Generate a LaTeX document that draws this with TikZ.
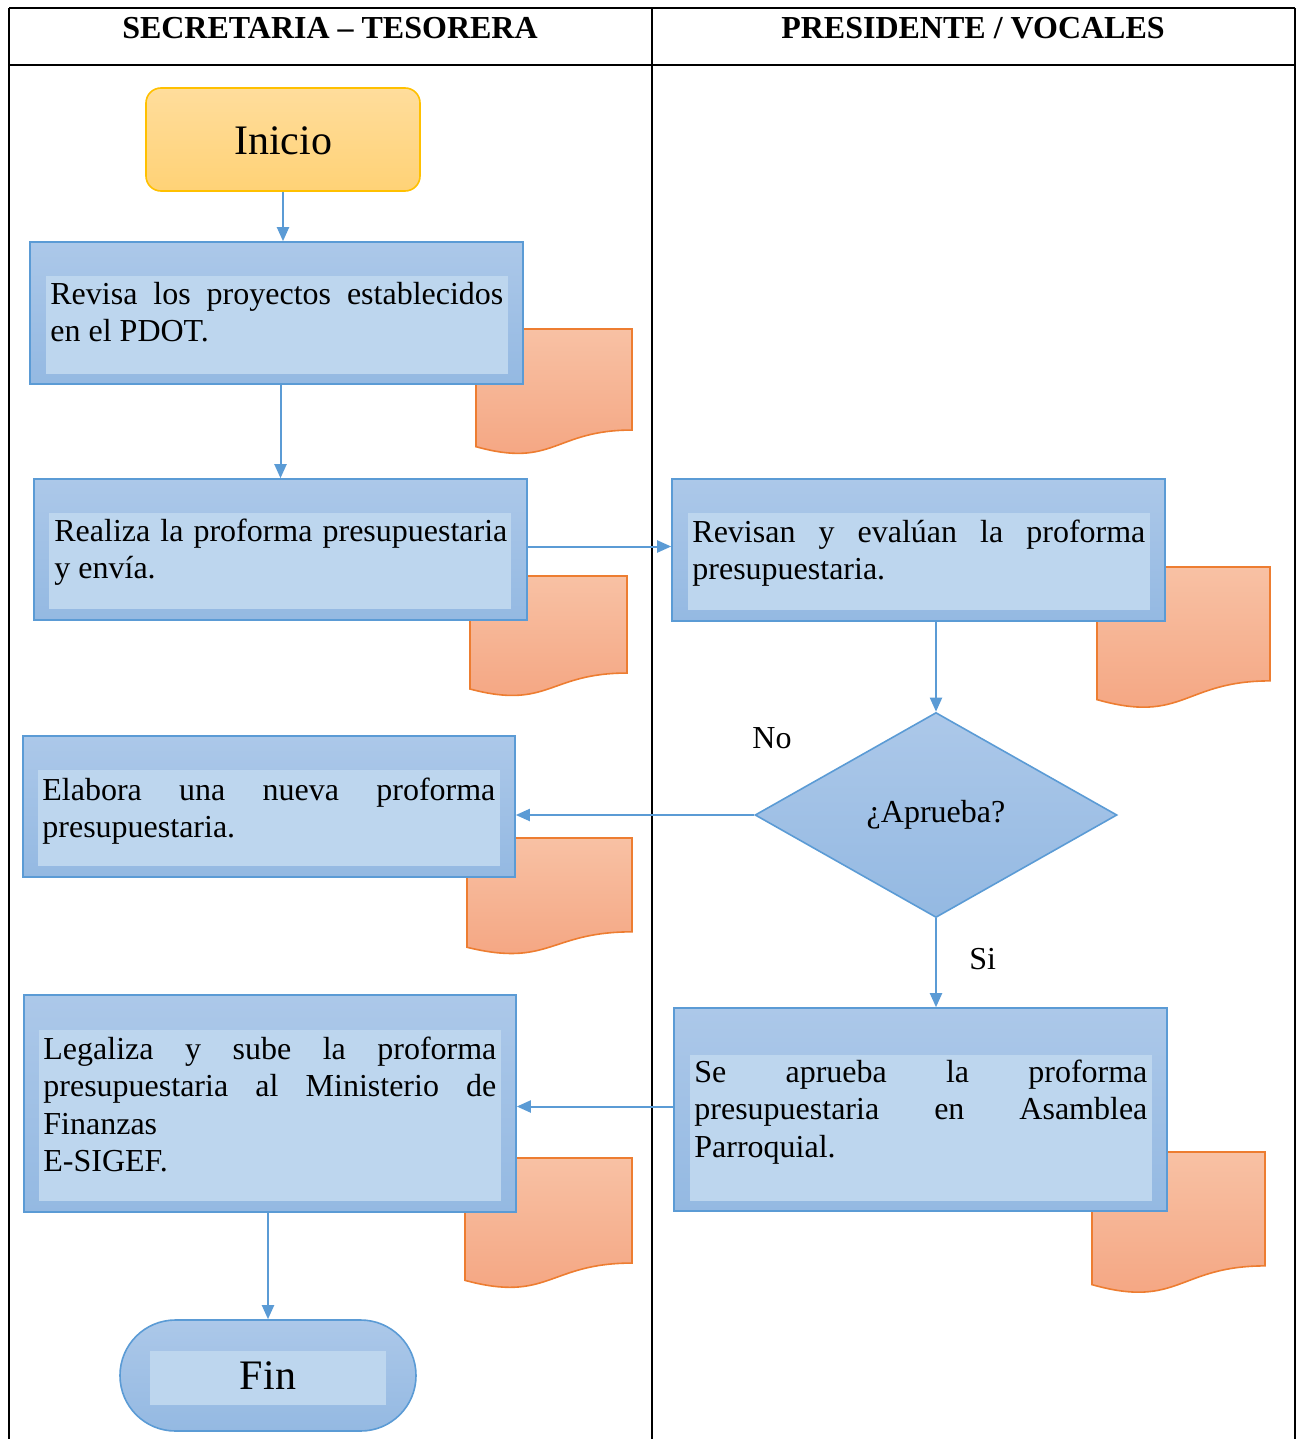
\documentclass[tikz,border=0pt]{standalone}
\usepackage{fontspec}
\setmainfont{Liberation Serif}
\usetikzlibrary{arrows.meta,shapes.geometric,fit}

\definecolor{flowblue}{RGB}{91,155,213}
\definecolor{boxtop}{RGB}{172,200,233}
\definecolor{boxbot}{RGB}{148,185,226}
\definecolor{boxinner}{RGB}{189,214,238}
\definecolor{doctop}{RGB}{248,193,164}
\definecolor{docbot}{RGB}{244,164,128}
\definecolor{docedge}{RGB}{237,125,49}
\definecolor{starttop}{RGB}{255,221,156}
\definecolor{startbot}{RGB}{255,210,118}
\definecolor{startedge}{RGB}{255,192,0}

% document symbol: left x, top y, width, height (drawing units)
\newcommand\docsheet[4]{%
  \path[docshape] (#1,#2) -- ({#1+#3},#2) -- ({#1+#3},{#2+0.802*#4})
    .. controls ({#1+0.5*#3},{#2+0.802*#4}) and ({#1+0.5*#3},{#2+1.107*#4})
    .. (#1,{#2+0.934*#4}) -- cycle;}

\newcommand\flowpar[1]{\parbox[t]{226.5pt}{\hyphenpenalty=10000\exhyphenpenalty=10000\hbadness=10000 #1}}

\tikzset{
  lane/.style={line width=1pt, draw=black},
  procbox/.style={rectangle, draw=flowblue, line width=0.8pt, top color=boxtop, bottom color=boxbot, inner sep=0pt},
  panel/.style={fill=boxinner},
  docshape/.style={draw=docedge, line width=0.8pt, top color=doctop, bottom color=docbot},
  startbox/.style={rectangle, rounded corners=7.5pt, draw=startedge, line width=0.8pt, top color=starttop, bottom color=startbot, inner sep=0pt},
  endbox/.style={rectangle, rounded corners=27.7pt, draw=flowblue, line width=0.8pt, top color=boxtop, bottom color=boxbot, inner sep=0pt},
  decision/.style={diamond, aspect=1.77, draw=flowblue, line width=0.8pt, top color=boxtop, bottom color=boxbot, inner sep=0pt, minimum width=181pt, minimum height=102.5pt, font=\fontsize{16}{19}\selectfont},
  flow/.style={draw=flowblue, line width=1pt, -{Triangle[width=6pt,length=7pt]}},
  bodytext/.style={inner sep=0pt, anchor=base west, font=\fontsize{16}{18.75}\selectfont},
  headtext/.style={inner sep=0pt, anchor=base, font=\bfseries\fontsize{16}{19}\selectfont},
  plain/.style={inner sep=0pt, anchor=base west, font=\fontsize{16}{19}\selectfont},
  bigtext/.style={inner sep=0pt, font=\fontsize{21}{25}\selectfont},
}

\begin{document}
\begin{tikzpicture}[x=0.5pt, y=-0.5pt]
\useasboundingbox (0,0) rectangle (1300,1439);

% swimlane table
\draw[lane] (9,8) -- (1295,8);
\draw[lane] (9,65) -- (1295,65);
\draw[lane] (9,8) -- (9,1445);
\draw[lane] (652,8) -- (652,1445);
\draw[lane] (1295,8) -- (1295,1445);
\node[headtext] (h1) at (330,39) {SECRETARIA – TESORERA};
\node[headtext] (h2) at (973,39) {PRESIDENTE / VOCALES};

% documents behind the process boxes
\docsheet{476}{329}{156}{126}
\docsheet{470}{576}{157}{121}
\docsheet{1097}{567}{173}{142}
\docsheet{467}{838}{165}{117}
\docsheet{1092}{1152}{173}{142}
\docsheet{465}{1158}{167}{131}

% start
\node[startbox, fit={(146,88) (420,191)}] (ini) {};
\node[bigtext] (tini) at (283,141) {Inicio};

% process boxes
\node[procbox, fit={(30,242) (523,384)}] (b1) {};
\fill[panel] (46,276) rectangle (508,374);
\node[bodytext] (t1) at (50,304) {\flowpar{Revisa los proyectos establecidos\linebreak en el PDOT.}};

\node[procbox, fit={(34,479) (527,620)}] (b2) {};
\fill[panel] (49,513) rectangle (511,609);
\node[bodytext] (t2) at (54,541) {\flowpar{Realiza la proforma presupuestaria\linebreak y envía.}};

\node[procbox, fit={(672,479) (1165,621)}] (b3) {};
\fill[panel] (688,513) rectangle (1150,610);
\node[bodytext] (t3) at (692,542) {\flowpar{Revisan y evalúan la proforma\linebreak presupuestaria.}};

\node[decision] (dec) at (936,815) {¿Aprueba?};

\node[procbox, fit={(23,736) (515,877)}] (b4) {};
\fill[panel] (38,770) rectangle (500,866);
\node[bodytext] (t4) at (42,800) {\flowpar{Elabora una nueva proforma\linebreak presupuestaria.}};

\node[procbox, fit={(674,1008) (1167,1211)}] (b5) {};
\fill[panel] (690,1055) rectangle (1152,1201);
\node[bodytext] (t5) at (694,1082) {\flowpar{Se aprueba la proforma\linebreak presupuestaria en Asamblea\linebreak Parroquial.}};

\node[procbox, fit={(24,995) (516,1212)}] (b6) {};
\fill[panel] (39,1030) rectangle (501,1201);
\node[bodytext] (t6) at (43,1059) {\flowpar{Legaliza y sube la proforma\linebreak presupuestaria al Ministerio de\linebreak Finanzas\\E-SIGEF.}};

% end
\node[endbox, fit={(120,1320) (416,1431)}] (fin) {};
\fill[panel] (150,1351) rectangle (386,1405);
\node[bigtext] (tfin) at (fin.center) {Fin};

% branch labels
\node[plain] (lno) at (752,748) {No};
\node[plain] (lsi) at (969,969) {Si};

% connectors
\draw[flow] (ini.south) -- (ini.south |- b1.north);
\draw[flow] (b1.south -| b2.north) -- (b2.north);
\draw[flow] ([yshift=1.5pt]b2.east) -- ([yshift=1.5pt]b2.east -| b3.west);
\draw[flow] (b3.south -| dec.north) -- (dec.north);
\draw[flow] (dec.west) -- (dec.west -| b4.east);
\draw[flow] (dec.south) -- (dec.south |- b5.north);
\draw[flow] ([yshift=1.5pt]b5.west) -- ([yshift=1.5pt]b5.west -| b6.east);
\draw[flow] (b6.south -| fin.north) -- (fin.north);
\end{tikzpicture}
\end{document}
